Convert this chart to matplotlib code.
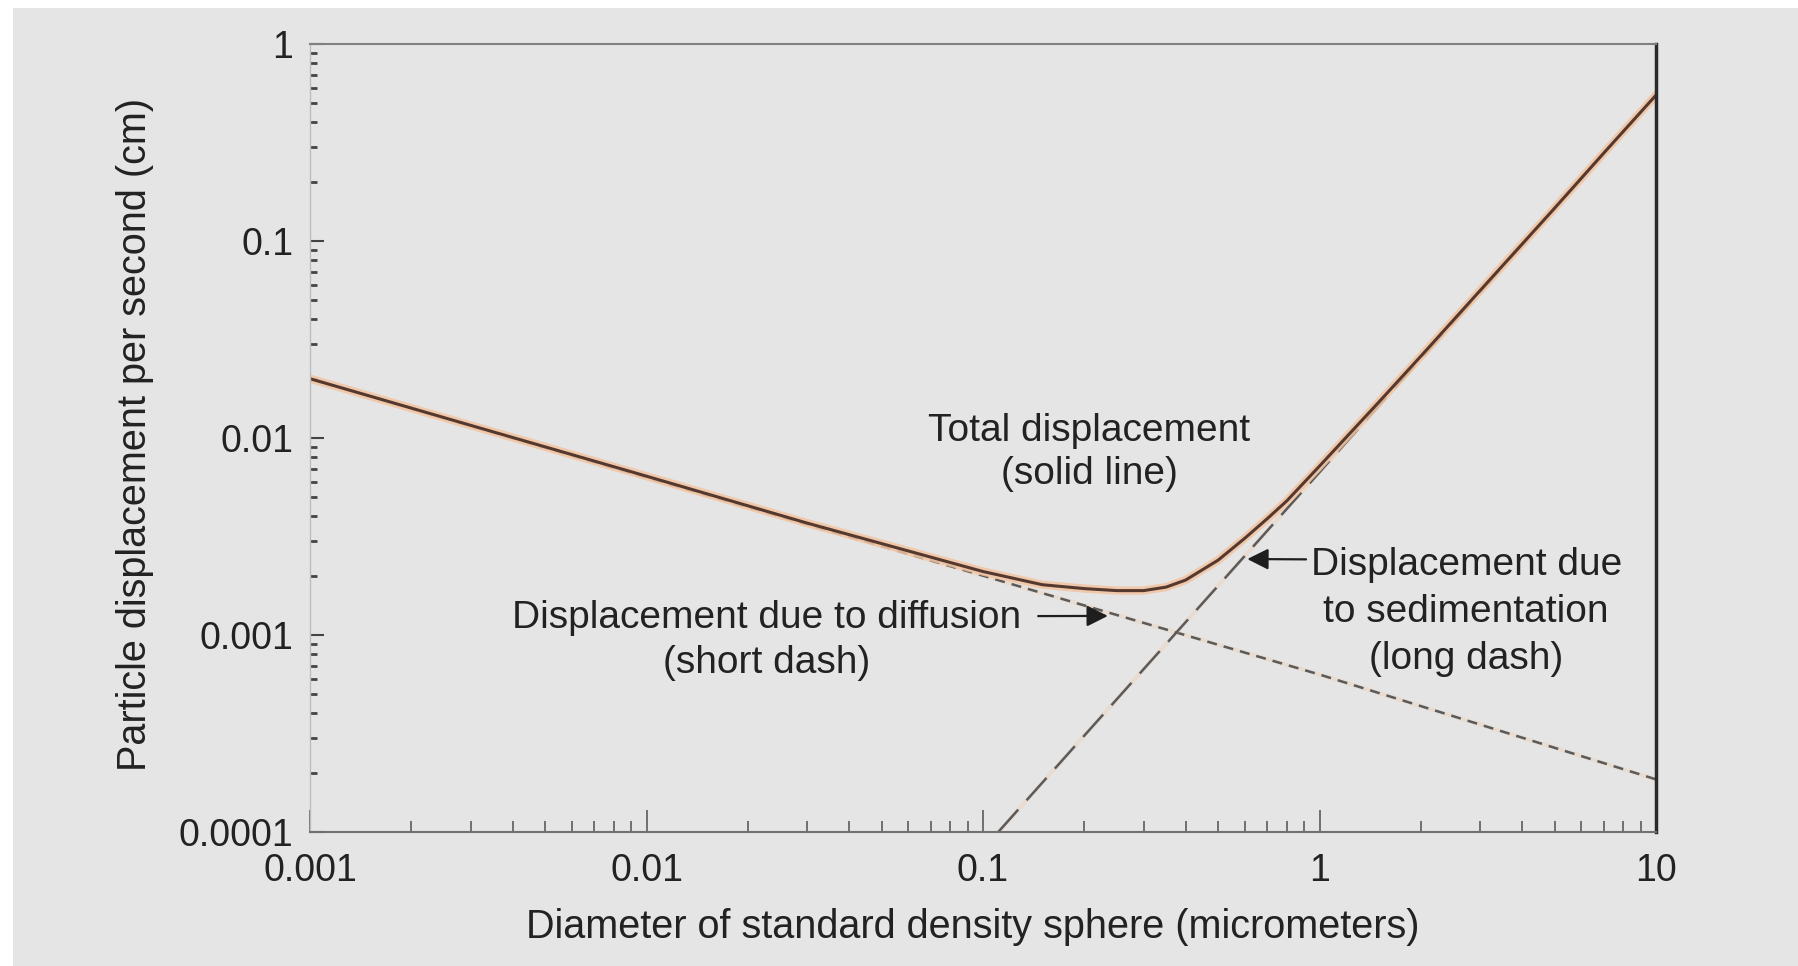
import matplotlib
matplotlib.use('Agg')
import matplotlib.pyplot as plt
from matplotlib.patches import Rectangle
from matplotlib.ticker import LogLocator, NullFormatter, FixedLocator, FixedFormatter

plt.rcParams['font.family'] = ['Liberation Sans', 'DejaVu Sans']

# Deslocamento total (linha cheia)
diametro_total = [0.001, 0.003, 0.01, 0.03, 0.1, 0.15, 0.2, 0.25, 0.3, 0.35, 0.4,
                  0.5, 0.6, 0.7, 0.8, 1, 1.5, 2, 3, 5, 7, 10]
desl_total = [0.020, 0.0116, 0.0064, 0.0037, 0.0021, 0.00180, 0.00172, 0.00168,
              0.00168, 0.00175, 0.0019, 0.0024, 0.0031, 0.0039, 0.0048, 0.0072,
              0.0152, 0.026, 0.056, 0.147, 0.28, 0.55]

# Deslocamento por difusao (traco curto)
diametro_difusao = [0.001, 0.01, 0.1, 1, 10]
desl_difusao = [0.020, 0.0063, 0.0020, 0.00063, 0.000185]

# Deslocamento por sedimentacao (traco longo)
diametro_sedim = [0.111, 0.3, 1, 3, 10]
desl_sedim = [0.0001, 0.00067, 0.0067, 0.055, 0.55]

x_ticks = [0.001, 0.01, 0.1, 1, 10]
x_labels = ['0.001', '0.01', '0.1', '1', '10']
y_ticks = [0.0001, 0.001, 0.01, 0.1, 1]
y_labels = ['0.0001', '0.001', '0.01', '0.1', '1']

W, H = 1799, 966
fig = plt.figure(figsize=(W / 100, H / 100), dpi=100, facecolor='white')
fig.patches.append(Rectangle((13 / W, 0), 1, 1 - 8 / H, transform=fig.transFigure,
                             facecolor='#e5e5e5', edgecolor='none', zorder=-10))

ax = fig.add_axes([310 / W, 1 - 832 / H, (1656 - 310) / W, (832 - 44) / H])
ax.set_facecolor('none')
ax.set_xscale('log')
ax.set_yscale('log')
ax.set_xlim(0.001, 10)
ax.set_ylim(0.0001, 1)

halo = '#f2c4a2'
# difusao
ax.plot(diametro_difusao, desl_difusao, color=halo, lw=3, alpha=0.3)
ax.plot(diametro_difusao, desl_difusao, color='#5a5a5a', lw=1.8, dashes=(4, 2.8))
# sedimentacao
ax.plot(diametro_sedim, desl_sedim, color=halo, lw=3, alpha=0.3)
ax.plot(diametro_sedim, desl_sedim, color='#5a5a5a', lw=1.8, dashes=(12, 5))
# total
ax.plot(diametro_total, desl_total, color=halo, lw=6, alpha=0.85)
ax.plot(diametro_total, desl_total, color='#56392e', lw=2.2)

# eixos
ax.spines['left'].set_color('#bdbdbd')
ax.spines['left'].set_linewidth(1)
ax.spines['bottom'].set_color('#707070')
ax.spines['bottom'].set_linewidth(1.5)
ax.spines['top'].set_color('#808080')
ax.spines['top'].set_linewidth(1.5)
ax.spines['right'].set_color('#2a2a2a')
ax.spines['right'].set_linewidth(2.5)

ax.xaxis.set_major_locator(FixedLocator(x_ticks))
ax.xaxis.set_major_formatter(FixedFormatter(x_labels))
ax.yaxis.set_major_locator(FixedLocator(y_ticks))
ax.yaxis.set_major_formatter(FixedFormatter(y_labels))
ax.xaxis.set_minor_locator(LogLocator(base=10, subs=range(2, 10)))
ax.yaxis.set_minor_locator(LogLocator(base=10, subs=range(2, 10)))
ax.xaxis.set_minor_formatter(NullFormatter())
ax.yaxis.set_minor_formatter(NullFormatter())

ax.tick_params(axis='x', which='major', direction='in', length=16, width=1.3,
               color='#666666', labelsize=27, pad=15, labelcolor='#222222')
ax.tick_params(axis='x', which='minor', direction='in', length=8, width=1.3, color='#666666')
ax.tick_params(axis='y', which='major', direction='in', length=10, width=1.5,
               color='#444444', labelsize=27, pad=12, labelcolor='#222222')
ax.tick_params(axis='y', which='minor', direction='in', length=5, width=2, color='#444444')
ax.tick_params(top=False, right=False, which='both')

fig.text(973 / W, 1 - 927 / H, 'Diameter of standard density sphere (micrometers)',
         ha='center', va='center', fontsize=28.5, color='#222222')
fig.text(135 / W, 1 - 434 / H, 'Particle displacement per second (cm)',
         ha='center', va='center', rotation=90, fontsize=28.5, color='#222222')

# textos explicativos
ax.text(0.579, 0.482, 'Total displacement\n(solid line)', transform=ax.transAxes,
        ha='center', va='center', fontsize=28, linespacing=1.25, color='#222222')
ax.text(0.3395, 0.243, 'Displacement due to diffusion\n(short dash)', transform=ax.transAxes,
        ha='center', va='center', fontsize=28, linespacing=1.3, color='#222222')
ax.text(0.859, 0.279, 'Displacement due\nto sedimentation\n(long dash)', transform=ax.transAxes,
        ha='center', va='center', fontsize=28, linespacing=1.4, color='#222222')

seta = dict(arrowstyle='-|>', color='#1e1e1e', lw=1.6, mutation_scale=32,
            shrinkA=0, shrinkB=0)
ax.annotate('', xy=(0.235, 0.00125), xycoords='data',
            xytext=(0.541, 0.274), textcoords='axes fraction', arrowprops=seta)
ax.annotate('', xy=(0.61, 0.00243), xycoords='data',
            xytext=(0.740, 0.346), textcoords='axes fraction', arrowprops=seta)

fig.savefig('out.png', dpi=100, facecolor=fig.get_facecolor())
